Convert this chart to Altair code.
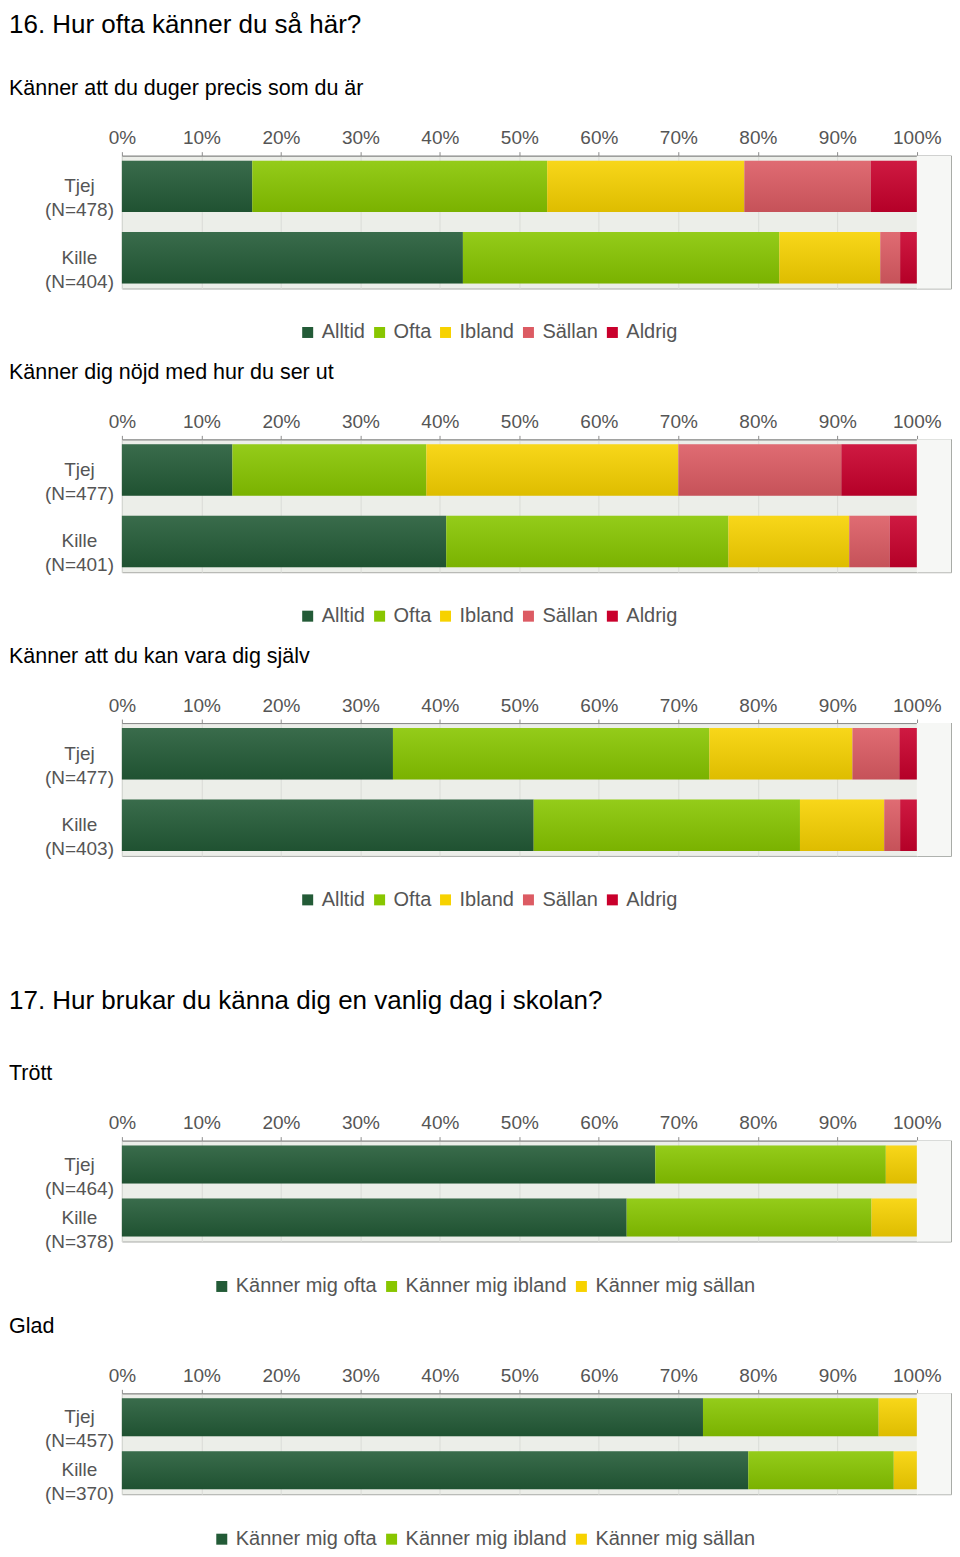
import altair as alt
import pandas as pd

FONT = "Liberation Sans"

# ---- data ----
ticks = [0, 10, 20, 30, 40, 50, 60, 70, 80, 90, 100]

cats5 = ["Alltid", "Ofta", "Ibland", "Sällan", "Aldrig"]
colors5 = ["#235b37", "#88c600", "#f7d200", "#dc5b63", "#c9002c"]
cats3 = ["Känner mig ofta", "Känner mig ibland", "Känner mig sällan"]
colors3 = ["#235b37", "#88c600", "#f7d200"]

heading16 = "16. Hur ofta känner du så här?"
heading17 = "17. Hur brukar du känna dig en vanlig dag i skolan?"

q1_title = "Känner att du duger precis som du är"
q1_groups = ["Tjej|(N=478)", "Kille|(N=404)"]
q1_tjej = [16.4, 37.1, 24.8, 15.9, 5.8]
q1_kille = [42.9, 39.8, 12.7, 2.5, 2.1]

q2_title = "Känner dig nöjd med hur du ser ut"
q2_groups = ["Tjej|(N=477)", "Kille|(N=401)"]
q2_tjej = [13.9, 24.4, 31.7, 20.5, 9.5]
q2_kille = [40.8, 35.5, 15.2, 5.1, 3.4]

q3_title = "Känner att du kan vara dig själv"
q3_groups = ["Tjej|(N=477)", "Kille|(N=403)"]
q3_tjej = [34.1, 39.8, 18.0, 5.9, 2.2]
q3_kille = [51.8, 33.5, 10.6, 2.0, 2.1]

q4_title = "Trött"
q4_groups = ["Tjej|(N=464)", "Kille|(N=378)"]
q4_tjej = [67.1, 29.0, 3.9]
q4_kille = [63.5, 30.8, 5.7]

q5_title = "Glad"
q5_groups = ["Tjej|(N=457)", "Kille|(N=370)"]
q5_tjej = [73.1, 22.1, 4.8]
q5_kille = [78.8, 18.3, 2.9]

X_MAX = 104.3
PLOT_W = 830
Y_EXT = 113
LABEL_FS = 19
LEGEND_FS = 20

gradient = alt.LinearGradient(
    gradient="linear",
    stops=[
        alt.GradientStop(color="rgba(255,255,255,0.10)", offset=0),
        alt.GradientStop(color="rgba(0,0,0,0.10)", offset=1),
    ],
    x1=0, x2=0, y1=0, y2=1,
)


def panel(groups, series, cats, colors, height, pinner, pouter, title, lx, ly):
    rows = []
    for g, vals in zip(groups, series):
        for i, (c, v) in enumerate(zip(cats, vals)):
            rows.append({"grupp": g, "svar": c, "andel": v, "ordning": i})
    df = pd.DataFrame(rows)
    rest = pd.DataFrame({"start": [100.0], "slut": [X_MAX]})

    xscale = alt.Scale(domain=[0, X_MAX], nice=False, zero=True)
    xaxis = alt.Axis(
        orient="top", values=ticks, labelExpr="datum.value + '%'", title=None,
        tickSize=4, labelPadding=4, domainColor="#8c8c8c", tickColor="#8c8c8c",
        gridColor="#dadcd7", labelFontSize=LABEL_FS, labelColor="#555555", labelFont=FONT,
        labelFlush=False, labelOverlap=False,
    )
    yaxis = alt.Axis(
        title=None, ticks=False, tickSize=0, domain=False, labelAlign="center",
        labelPadding=43, labelExpr="split(datum.value, '|')", labelLineHeight=24,
        labelFontSize=LABEL_FS, labelColor="#555555", labelFont=FONT, labelBaseline="middle",
        minExtent=Y_EXT, maxExtent=Y_EXT, grid=False,
    )
    yscale = alt.Scale(paddingInner=pinner, paddingOuter=pouter)

    back = alt.Chart(rest).mark_rect(color="#f6f7f5").encode(
        x=alt.X("start:Q", scale=xscale, axis=xaxis),
        x2="slut:Q",
    )
    bars = alt.Chart(df).mark_bar().encode(
        x=alt.X("andel:Q", stack="zero", scale=xscale, axis=xaxis),
        y=alt.Y("grupp:N", sort=groups, scale=yscale, axis=yaxis),
        color=alt.Color(
            "svar:N",
            scale=alt.Scale(domain=cats, range=colors),
            legend=alt.Legend(
                orient="none", legendX=lx, legendY=ly, direction="horizontal",
                title=None, symbolType="square", symbolSize=121, symbolStrokeWidth=0,
                labelFontSize=LEGEND_FS, labelColor="#555555", labelFont=FONT,
                labelOffset=4, columnPadding=4, padding=0, labelLimit=400,
            ),
        ),
        order=alt.Order("ordning:Q"),
    )
    shade = alt.Chart(df).mark_bar(color=gradient).encode(
        x=alt.X("andel:Q", stack="zero", scale=xscale, axis=xaxis),
        y=alt.Y("grupp:N", sort=groups, scale=yscale, axis=yaxis),
        detail="svar:N",
        order=alt.Order("ordning:Q"),
    )
    return alt.layer(back, bars, shade).properties(
        width=PLOT_W, height=height, title=title,
        view=alt.ViewBackground(fill="#eceee9", stroke="#a9aba7"),
    )


def sub_title(text):
    return alt.TitleParams(
        text=text, anchor="start", frame="group", dx=-Y_EXT, fontSize=21.5,
        font=FONT, fontWeight="normal", color="#000000", offset=29,
    )


def head_title(text, sub, pad):
    return alt.TitleParams(
        text=text, subtitle=sub, anchor="start", frame="group", dx=-Y_EXT,
        fontSize=26, font=FONT, fontWeight="normal", color="#000000",
        subtitleFontSize=21.5, subtitleFont=FONT, subtitleColor="#000000",
        subtitlePadding=pad, offset=29,
    )


p1 = panel(q1_groups, [q1_tjej, q1_kille], cats5, colors5, 133, 0.28, 0.07,
           head_title(heading16, q1_title, 40), 176, 167)
p2 = panel(q2_groups, [q2_tjej, q2_kille], cats5, colors5, 133, 0.28, 0.07,
           sub_title(q2_title), 176, 167)
p3 = panel(q3_groups, [q3_tjej, q3_kille], cats5, colors5, 133, 0.28, 0.07,
           sub_title(q3_title), 176, 167)
p4 = panel(q4_groups, [q4_tjej, q4_kille], cats3, colors3, 101, 0.283, 0.094,
           head_title(heading17, q4_title, 49), 90, 136)
p5 = panel(q5_groups, [q5_tjej, q5_kille], cats3, colors3, 101, 0.283, 0.094,
           sub_title(q5_title), 90, 136)

spacer = alt.Chart(pd.DataFrame({"v": [0]})).mark_point(opacity=0).encode(
    x=alt.X("v:Q", axis=None), y=alt.Y("v:Q", axis=None)
).properties(width=10, height=39, view=alt.ViewBackground(stroke="transparent", fill="transparent"))

chart = alt.vconcat(p1, p2, p3, spacer, p4, p5, spacing=18).properties(
    padding={"top": 3, "left": 0, "right": 0, "bottom": 0}, background="#ffffff"
).configure_view(stroke="transparent").resolve_scale(color="independent")

chart.save("out.html", embed_options={"renderer": "svg", "actions": False})
